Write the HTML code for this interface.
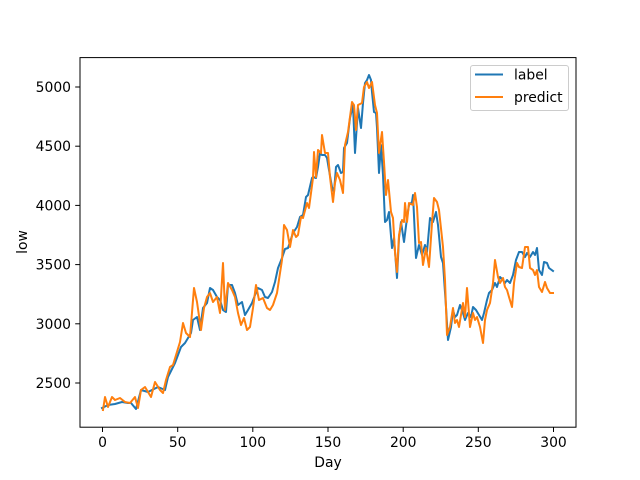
<!DOCTYPE html>
<html><head><meta charset="utf-8"><style>
html,body{margin:0;padding:0;background:#fff}
svg{display:block}
text{font-family:"DejaVu Sans","Liberation Sans",sans-serif;font-size:13.9px;fill:#000}
</style></head><body>
<svg width="640" height="480" viewBox="0 0 640 480" xmlns="http://www.w3.org/2000/svg">
<rect width="640" height="480" fill="#fff"/>
<g fill="none" stroke-width="2" stroke-linejoin="round" stroke-linecap="square">
<polyline stroke="#1f77b4" points="102,408 108,405 115,404 122,402 128,403 131,403 136,409 141,390 148,392 158,387 165,390 168,377 175,363 181,347 185,343 191,333 193,320 197,317 200,330 203,308 207,303 210,288 213,290 217,297 220,300 223,310 226,312 228,285 232,285 235,293 238,305 242,302 245,315 248,310 252,303 255,295 258,288 262,290 265,297 268,298 272,292 275,282 278,268 282,258 285,249 288,248 290,242 293,233 297,227 300,217 303,215 306,197 308,195 312,178 313,177 316,178 318,167 320,153 322,155 325,155 327,158 329,170 332,187 334,192 336,167 338,165 341,173 343,172 344,148 347,143 350,118 353,105 355,153 358,108 361,128 363,103 365,83 367,80 369,75 371,80 372,92 374,112 376,113 377,128 379,173 381,145 383,175 385,222 387,220 389,212 392,248 394,238 397,278 399,238 401,222 404,242 407,218 409,205 412,202 413,195 416,258 419,245 422,255 425,245 427,252 430,218 433,222 436,212 438,225 441,257 443,263 446,307 448,340 451,327 453,310 455,317 457,315 460,305 463,313 465,320 468,313 471,317 473,307 476,310 479,315 482,320 484,313 487,300 489,293 492,290 495,283 497,287 500,277 503,280 505,283 507,280 510,283 513,275 516,260 519,252 522,252 525,257 527,253 530,257 533,252 535,255 537,248 539,270 542,275 544,262 547,263 549,268 553,271"/>
<polyline stroke="#ff7f0e" points="103,410 105,397 108,407 112,397 115,400 120,398 125,402 130,403 135,397 138,408 141,390 145,387 151,397 155,382 160,390 163,393 166,380 170,367 173,365 180,342 183,323 186,333 190,337 194,288 197,302 201,330 204,308 207,297 210,293 213,302 217,297 220,313 223,263 225,310 228,283 232,290 235,297 238,313 241,325 244,318 247,330 250,327 253,308 256,285 259,300 263,298 267,308 270,310 273,305 277,293 280,273 282,260 284,225 287,230 290,247 293,230 296,237 298,235 301,217 303,218 307,203 309,208 313,178 314,152 316,177 318,150 321,153 322,135 325,153 328,153 330,177 333,202 335,183 337,173 340,180 343,193 345,145 348,132 352,102 354,105 356,130 358,105 362,103 364,87 367,82 369,88 372,82 375,105 377,113 379,153 382,132 384,162 386,195 388,180 391,212 393,218 395,252 397,272 399,235 402,220 404,222 405,203 407,222 409,203 413,205 415,193 417,207 419,243 421,242 423,265 426,248 429,267 432,223 434,198 437,202 439,210 443,247 445,280 447,335 450,327 453,308 455,323 457,320 459,327 463,303 465,317 467,288 470,327 473,313 475,320 477,317 480,327 483,343 485,320 487,310 490,303 493,283 495,260 498,277 500,283 503,278 505,287 507,290 509,297 512,307 514,283 517,263 519,267 522,268 525,247 528,247 530,268 533,270 535,275 537,270 539,287 542,292 545,282 547,288 550,293 553,293"/>
</g>
<rect x="80" y="57.6" width="496" height="369.6" fill="none" stroke="#000" stroke-width="1"/>
<g stroke="#000" stroke-width="1">
<line x1="102.5" y1="427.2" x2="102.5" y2="432"/>
<line x1="177.7" y1="427.2" x2="177.7" y2="432"/>
<line x1="252.8" y1="427.2" x2="252.8" y2="432"/>
<line x1="328" y1="427.2" x2="328" y2="432"/>
<line x1="403.2" y1="427.2" x2="403.2" y2="432"/>
<line x1="478.3" y1="427.2" x2="478.3" y2="432"/>
<line x1="553.5" y1="427.2" x2="553.5" y2="432"/>
<line x1="75.2" y1="383" x2="80" y2="383"/>
<line x1="75.2" y1="323.8" x2="80" y2="323.8"/>
<line x1="75.2" y1="264.6" x2="80" y2="264.6"/>
<line x1="75.2" y1="205.4" x2="80" y2="205.4"/>
<line x1="75.2" y1="146.2" x2="80" y2="146.2"/>
<line x1="75.2" y1="87" x2="80" y2="87"/>
</g>
<g text-anchor="middle">
<text x="102.5" y="447">0</text>
<text x="177.7" y="447">50</text>
<text x="252.8" y="447">100</text>
<text x="328" y="447">150</text>
<text x="403.2" y="447">200</text>
<text x="478.3" y="447">250</text>
<text x="553.5" y="447">300</text>
<text x="328" y="467">Day</text>
</g>
<g text-anchor="end">
<text x="71" y="388">2500</text>
<text x="71" y="328.8">3000</text>
<text x="71" y="269.6">3500</text>
<text x="71" y="210.4">4000</text>
<text x="71" y="151.2">4500</text>
<text x="71" y="92">5000</text>
</g>
<text x="0" y="0" text-anchor="middle" transform="translate(27,242) rotate(-90)">low</text>
<rect x="470.5" y="65.5" width="98" height="45" rx="2.5" fill="#fff" fill-opacity="0.8" stroke="#ccc" stroke-width="1"/>
<line x1="475" y1="74.5" x2="503" y2="74.5" stroke="#1f77b4" stroke-width="2"/>
<line x1="475" y1="97" x2="503" y2="97" stroke="#ff7f0e" stroke-width="2"/>
<text x="514" y="79.5">label</text>
<text x="514" y="102">predict</text>
</svg>
</body></html>
